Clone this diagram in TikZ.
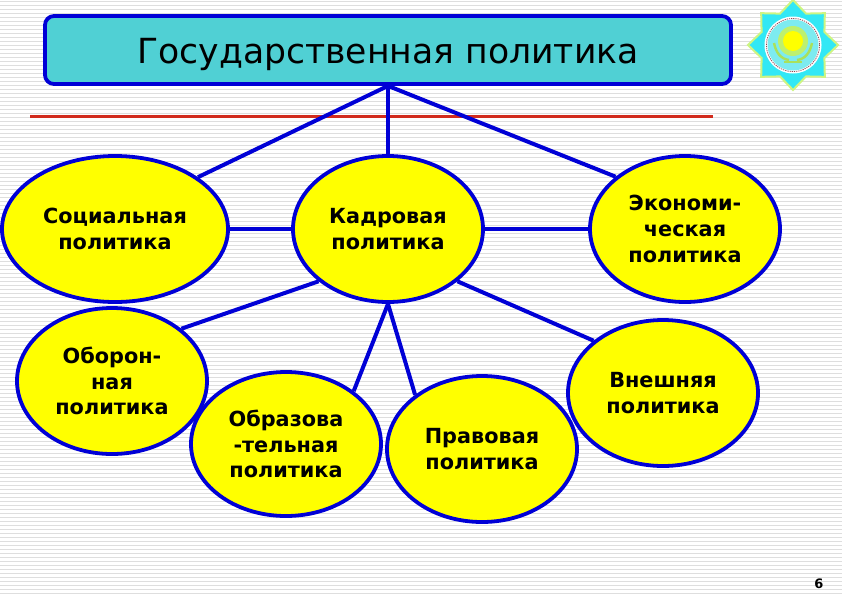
\documentclass[tikz,border=0pt]{standalone}
\usepackage{fontspec}
\setmainfont{DejaVu Sans}
\usetikzlibrary{shapes.geometric}
\definecolor{stripe}{RGB}{222,222,222}
\definecolor{edgeblue}{RGB}{0,0,214}
\definecolor{titlefill}{RGB}{80,208,212}
\definecolor{redline}{RGB}{210,44,30}
\definecolor{oval}{RGB}{255,255,0}
\definecolor{starfill}{RGB}{50,232,245}
\definecolor{innerfill}{RGB}{125,235,240}
\definecolor{starrim}{RGB}{205,245,130}
\definecolor{ringred}{RGB}{150,70,80}
\definecolor{wreath}{RGB}{170,225,90}
\definecolor{sunray}{RGB}{190,240,110}
\tikzset{
  x=1pt,y=-1pt,
  policy/.style={ellipse,draw=edgeblue,line width=3.8pt,fill=oval,inner sep=0pt,align=center,
    font=\fontsize{20.8}{25.6}\selectfont\bfseries,text=black},
  wire/.style={draw=edgeblue,line width=4pt},
}
\begin{document}
\begin{tikzpicture}
\useasboundingbox (0,0) rectangle (842,595);
\fill[white] (0,0) rectangle (842,595);
\foreach \i in {0,...,148}{
  \fill[stripe] (0,{0.5+4*\i}) rectangle (842,{1.5+4*\i});
}
\draw[redline,line width=3pt] (30,116) -- (713,116);
\node[draw=edgeblue,line width=3.8pt,fill=titlefill,rounded corners=9pt,minimum width=686pt,minimum height=68pt,inner sep=0pt,
  font=\fontsize{34.6}{40}\selectfont,text=black] (title) at (388,50) {\raisebox{-13pt}[0pt][0pt]{Государственная политика}};
\node[policy,minimum width=226pt,minimum height=146pt] (soc) at (115,229) {Социальная\\политика};
\node[policy,minimum width=190pt,minimum height=146pt] (kad) at (388,229) {Кадровая\\политика};
\node[policy,minimum width=190pt,minimum height=146pt] (eco) at (685,229) {\raisebox{-1pt}{Экономи-}\\\raisebox{-1pt}{ческая}\\\raisebox{-1pt}{политика}};
\node[policy,minimum width=190pt,minimum height=146pt] (obo) at (112,381) {Оборон-\\ная\\политика};
\node[policy,minimum width=190pt,minimum height=144pt] (obr) at (286,444) {Образова\\-тельная\\политика};
\node[policy,minimum width=190pt,minimum height=146pt] (pra) at (482,449) {Правовая\\политика};
\node[policy,minimum width=190pt,minimum height=146pt] (vne) at (663,393) {Внешняя\\политика};
\draw[wire] (title.south) -- (soc.32);
\draw[wire] (title.south) -- (kad.north);
\draw[wire] (title.south) -- (eco.143);
\draw[wire] (soc.east) -- (kad.west);
\draw[wire] (kad.east) -- (eco.west);
\draw[wire] (kad.217) -- (obo.37);
\draw[wire] (kad.south) -- (obr.38);
\draw[wire] (kad.south) -- (pra.141);
\draw[wire] (kad.323) -- (vne.143);
% emblem
\begin{scope}[shift={(793,45)}]
  \draw[starrim,line width=2pt,fill=starfill]
    (90:45)
    \foreach \a in {1,...,15}{ -- ({90+22.5*\a}:{ifthenelse(mod(\a,2)==0,45,34)}) } -- cycle;
  \fill[white] (0,0) circle (28.5);
  \fill[innerfill] (0,0) circle (25.5);
  \draw[ringred,line width=0.8pt,dash pattern=on 1.2pt off 1pt] (0,0) circle (26.6);
  \fill[sunray] (0,-4) circle (15);
  \fill[oval] (0,-4) circle (10);
  \draw[wreath,line width=2.4pt] (-19,-2) .. controls (-17,8) and (-12,14) .. (-4,15);
  \draw[wreath,line width=2.4pt] (19,-2) .. controls (17,8) and (12,14) .. (4,15);
  \draw[wreath,line width=1.6pt] (-9,17) -- (9,17);
\end{scope}
\node[inner sep=0pt,font=\fontsize{13}{14}\selectfont\bfseries] (page) at (819,584) {6};
\end{tikzpicture}
\end{document}
